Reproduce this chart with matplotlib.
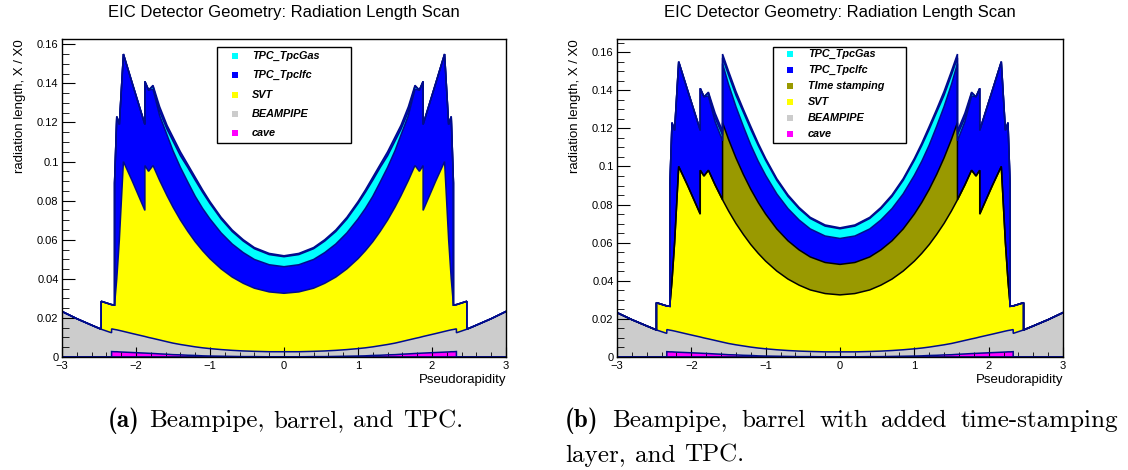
import numpy as np
import matplotlib
matplotlib.use('Agg')
import matplotlib.pyplot as plt
from matplotlib.patches import Rectangle
from matplotlib.ticker import MultipleLocator, FuncFormatter

plt.rcParams['font.family'] = ['Liberation Sans', 'DejaVu Sans']

# pseudorapidity points of the scan (a repeated value is a step)
eta = [-3.00, -2.80, -2.60, -2.47, -2.47, -2.33, -2.33, -2.29, -2.29, -2.26, -2.225, -2.17, -2.05,
       -1.88, -1.88, -1.83, -1.77, -1.68, -1.58, -1.58, -1.50, -1.40, -1.30, -1.20, -1.10, -1.00,
       -0.85, -0.70, -0.55, -0.40, -0.20, 0.00,
       0.20, 0.40, 0.55, 0.70, 0.85, 1.00, 1.10, 1.20, 1.30, 1.40, 1.50, 1.58, 1.58, 1.68, 1.77,
       1.83, 1.88, 1.88, 2.05, 2.17, 2.225, 2.26, 2.29, 2.29, 2.33, 2.33, 2.47, 2.47, 2.60, 2.80, 3.00]

# radiation length per volume, X/X0 (stacked bottom to top)
cave = [0, 0, 0, 0, 0, 0, 0.0028, 0.0027, 0.0027, 0.0027, 0.0026, 0.0025, 0.0023,
        0.0020, 0.0020, 0.0019, 0.0018, 0.0016, 0.0014, 0.0014, 0.0012, 0.0011, 0.0009, 0.0008, 0.0006, 0.0005,
        0.0004, 0.0003, 0.0002, 0.0002, 0.0001, 0.0001,
        0.0001, 0.0002, 0.0002, 0.0003, 0.0004, 0.0005, 0.0006, 0.0008, 0.0009, 0.0011, 0.0012, 0.0014, 0.0014, 0.0016, 0.0018,
        0.0019, 0.0020, 0.0020, 0.0023, 0.0025, 0.0026, 0.0027, 0.0027, 0.0027, 0.0028, 0, 0, 0, 0, 0, 0]
beampipe = [0.0233, 0.0196, 0.0163, 0.0142, 0.0142, 0.0124, 0.0116, 0.0114, 0.0114, 0.0112, 0.0110, 0.0106, 0.0097,
            0.0085, 0.0085, 0.0081, 0.0077, 0.0071, 0.0064, 0.0064, 0.0059, 0.0053, 0.0049, 0.0044, 0.0041, 0.0038,
            0.0034, 0.0031, 0.0029, 0.0027, 0.0026, 0.0026,
            0.0026, 0.0027, 0.0029, 0.0031, 0.0034, 0.0038, 0.0041, 0.0044, 0.0049, 0.0053, 0.0059, 0.0064, 0.0064, 0.0071, 0.0077,
            0.0081, 0.0085, 0.0085, 0.0097, 0.0106, 0.0110, 0.0112, 0.0114, 0.0114, 0.0116, 0.0124, 0.0142, 0.0142, 0.0163, 0.0196, 0.0233]
svt = [0, 0, 0, 0, 0.0143, 0.0144, 0.0124, 0.0125, 0.0125, 0.0261, 0.0464, 0.0869, 0.0780,
       0.0645, 0.0875, 0.0850, 0.0885, 0.0816, 0.0747, 0.0747, 0.0696, 0.0637, 0.0585, 0.0538, 0.0497, 0.0460,
       0.0413, 0.0375, 0.0346, 0.0323, 0.0306, 0.0299,
       0.0306, 0.0323, 0.0346, 0.0375, 0.0413, 0.0460, 0.0497, 0.0538, 0.0585, 0.0637, 0.0696, 0.0747, 0.0747, 0.0816, 0.0885,
       0.0850, 0.0875, 0.0645, 0.0780, 0.0869, 0.0464, 0.0261, 0.0125, 0.0125, 0.0124, 0.0144, 0.0143, 0, 0, 0, 0]
time_stamping = [0, 0, 0, 0, 0, 0, 0, 0, 0, 0, 0, 0, 0,
                 0, 0, 0, 0, 0, 0, 0.0405, 0.0376, 0.0344, 0.0315, 0.0290, 0.0267, 0.0247,
                 0.0221, 0.0201, 0.0185, 0.0173, 0.0163, 0.0160,
                 0.0163, 0.0173, 0.0185, 0.0201, 0.0221, 0.0247, 0.0267, 0.0290, 0.0315, 0.0344, 0.0376, 0.0405, 0, 0, 0,
                 0, 0, 0, 0, 0, 0, 0, 0, 0, 0, 0, 0, 0, 0, 0, 0]
tpc_lfc_inner = [0, 0, 0, 0, 0, 0, 0, 0, 0.0624, 0.083, 0.059, 0.055, 0.050,
                 0.044, 0.043, 0.0416, 0.0390, 0.0332, 0.0310, 0.0310, 0.0288, 0.0269, 0.0252, 0.0232, 0.0216, 0.0203,
                 0.0184, 0.0169, 0.0157, 0.0147, 0.0139, 0.0136,
                 0.0139, 0.0147, 0.0157, 0.0169, 0.0184, 0.0203, 0.0216, 0.0232, 0.0252, 0.0269, 0.0288, 0.0310, 0.0310, 0.0332, 0.0390,
                 0.0416, 0.043, 0.044, 0.050, 0.055, 0.059, 0.083, 0.0624, 0, 0, 0, 0, 0, 0, 0, 0]
tpc_gas = [0, 0, 0, 0, 0, 0, 0, 0, 0, 0, 0, 0, 0,
           0, 0, 0, 0.0015, 0.0020, 0.0030, 0.0030, 0.0050, 0.0060, 0.0075, 0.0083, 0.0083, 0.0079,
           0.0071, 0.0064, 0.0059, 0.0055, 0.0052, 0.0051,
           0.0052, 0.0055, 0.0059, 0.0064, 0.0071, 0.0079, 0.0083, 0.0083, 0.0075, 0.0060, 0.0050, 0.0030, 0.0030, 0.0020, 0.0015,
           0, 0, 0, 0, 0, 0, 0, 0, 0, 0, 0, 0, 0, 0, 0, 0]
tpc_lfc_outer = [0, 0, 0, 0, 0, 0, 0, 0, 0, 0, 0, 0, 0,
                 0, 0, 0, 0.0005, 0.0025, 0.0020, 0.0020, 0.0020, 0.0020, 0.0015, 0.0015, 0.0012, 0.0010,
                 0.0009, 0.0008, 0.0007, 0.0006, 0.0006, 0.0005,
                 0.0006, 0.0006, 0.0007, 0.0008, 0.0009, 0.0010, 0.0012, 0.0015, 0.0015, 0.0020, 0.0020, 0.0020, 0.0020, 0.0025, 0.0005,
                 0, 0, 0, 0, 0, 0, 0, 0, 0, 0, 0, 0, 0, 0, 0, 0]

title = 'EIC Detector Geometry: Radiation Length Scan'
legend_a = ['TPC_TpcGas', 'TPC_Tpclfc', 'SVT', 'BEAMPIPE', 'cave']
legend_b = ['TPC_TpcGas', 'TPC_Tpclfc', 'TIme stamping', 'SVT', 'BEAMPIPE', 'cave']
colors = {'cave': '#ff00ff', 'BEAMPIPE': '#cccccc', 'SVT': '#ffff00', 'TIme stamping': '#999900',
          'TPC_Tpclfc': '#0000ff', 'TPC_TpcGas': '#00ffff'}
navy = '#000c8c'

W, H = 1128, 470
fig = plt.figure(figsize=(W / 100, H / 100), dpi=100)


def draw_panel(left, width, ymax, layers, names, box, mark_x, text_x, rows):
    ax = fig.add_axes([left / W, (H - 357) / H, width / W, 318 / H])
    lower = np.zeros(len(eta))
    for vals, name, edge in layers:
        upper = lower + np.array(vals)
        ax.fill_between(eta, lower, upper, facecolor=colors[name], edgecolor='none', lw=0)
        lower = upper
    lower = np.zeros(len(eta))
    for vals, name, edge in layers:
        upper = lower + np.array(vals)
        ax.plot(eta, upper, color=edge, lw=1.1, solid_joinstyle='miter')
        lower = upper
    ax.plot([-3, 3], [0, 0], color=navy, lw=2)

    ax.set_xlim(-3, 3)
    ax.set_ylim(0, ymax)
    ax.xaxis.set_major_locator(MultipleLocator(1))
    ax.xaxis.set_minor_locator(MultipleLocator(0.2))
    ax.yaxis.set_major_locator(MultipleLocator(0.02))
    ax.yaxis.set_minor_locator(MultipleLocator(0.005))
    ax.xaxis.set_major_formatter(FuncFormatter(lambda v, p: f'{v:g}'.replace('-', '\u2212')))
    ax.yaxis.set_major_formatter(FuncFormatter(lambda v, p: f'{v:g}'))
    ax.tick_params(axis='both', which='both', direction='in', top=False, right=False, labelsize=8)
    ax.tick_params(axis='y', which='major', length=9.4, pad=2.5)
    ax.tick_params(axis='y', which='minor', length=4.7)
    ax.tick_params(axis='x', which='major', length=6.9, pad=3)
    ax.tick_params(axis='x', which='minor', length=3.4)
    for s in ax.spines.values():
        s.set_linewidth(1)

    ax.set_xlabel('Pseudorapidity', fontsize=9.5, loc='right')
    ax.xaxis.set_label_coords(1.0, -0.072)
    ax.xaxis.label.set_va('center')
    ax.set_ylabel('radiation length, X / X0', fontsize=9.5, loc='top')
    ax.yaxis.set_label_coords(-0.095, 1.0)
    ax.yaxis.label.set_va('center')

    # legend box
    x0, x1, y0, y1 = box
    tr = ax.transAxes
    fx = lambda px: (px - left) / width
    fy = lambda py: (357 - py) / 318
    ax.add_patch(Rectangle((fx(x0), fy(y1)), fx(x1) - fx(x0), fy(y0) - fy(y1), transform=tr,
                           facecolor='white', edgecolor='black', lw=1, zorder=5, clip_on=False))
    for name, py in zip(names, rows):
        ax.plot([fx(mark_x)], [fy(py)], 's', ms=5, mew=0, color=colors[name], transform=tr, zorder=6, clip_on=False)
        ax.text(fx(text_x), fy(py), name, transform=tr, fontsize=7.8, fontweight='bold', fontstyle='italic',
                va='center', ha='left', zorder=6)
    return ax


layers_a = [(cave, 'cave', navy), (beampipe, 'BEAMPIPE', navy), (svt, 'SVT', navy),
            (tpc_lfc_inner, 'TPC_Tpclfc', navy), (tpc_gas, 'TPC_TpcGas', navy), (tpc_lfc_outer, 'TPC_Tpclfc', navy)]
layers_b = [(cave, 'cave', navy), (beampipe, 'BEAMPIPE', navy), (svt, 'SVT', 'black'),
            (time_stamping, 'TIme stamping', 'black'), (tpc_lfc_inner, 'TPC_Tpclfc', navy),
            (tpc_gas, 'TPC_TpcGas', navy), (tpc_lfc_outer, 'TPC_Tpclfc', navy)]

draw_panel(62, 444, 0.1627, layers_a, legend_a, (217, 351, 47, 143), 235, 252,
           [55.7, 75.1, 94.5, 113.9, 133.3])
draw_panel(617, 446, 0.1669, layers_b, legend_b, (773, 906, 47, 143), 790, 808,
           [54.3, 70.3, 86.3, 102.3, 118.3, 134.3])

fig.text(284 / W, 1 - 13 / H, title, ha='center', va='center', fontsize=12)
fig.text(840 / W, 1 - 13 / H, title, ha='center', va='center', fontsize=12)

# captions (LaTeX style)
fig.canvas.draw()
rend = fig.canvas.get_renderer()


def caption_line(parts, x0, base, size, x1=None):
    txts = [fig.text(0, 1 - base / H, w, family=f, fontsize=size, va='baseline') for w, f in parts]
    widths = [t.get_window_extent(rend).width for t in txts]
    if x1 is None:
        gap = size * 100 / 72 * 0.36
    else:
        gap = (x1 - x0 - sum(widths)) / (len(parts) - 1)
    x = x0
    for t, w in zip(txts, widths):
        t.set_x(x / W)
        x += w + gap
    return x - gap


cap_a = [('(a)', 'cmb10'), ('Beampipe,', 'cmr10'), ('barrel,', 'cmr10'), ('and', 'cmr10'), ('TPC.', 'cmr10')]
cap_b1 = [('(b)', 'cmb10'), ('Beampipe,', 'cmr10'), ('barrel', 'cmr10'), ('with', 'cmr10'), ('added', 'cmr10'),
          ('time-stamping', 'cmr10')]
cap_b2 = [('layer,', 'cmr10'), ('and', 'cmr10'), ('TPC.', 'cmr10')]

# find a size so caption (a) spans its width in the reference
probe = fig.text(0, 0, '(a) Beampipe, barrel, and TPC.', family='cmr10', fontsize=10)
wprobe = probe.get_window_extent(rend).width
probe.remove()
size = 10 * 353 / wprobe

caption_line(cap_a, 108, 427, size)
caption_line(cap_b1, 565, 427, size, x1=1118)
caption_line(cap_b2, 565, 462, size)

fig.savefig('out.png', dpi=100)
